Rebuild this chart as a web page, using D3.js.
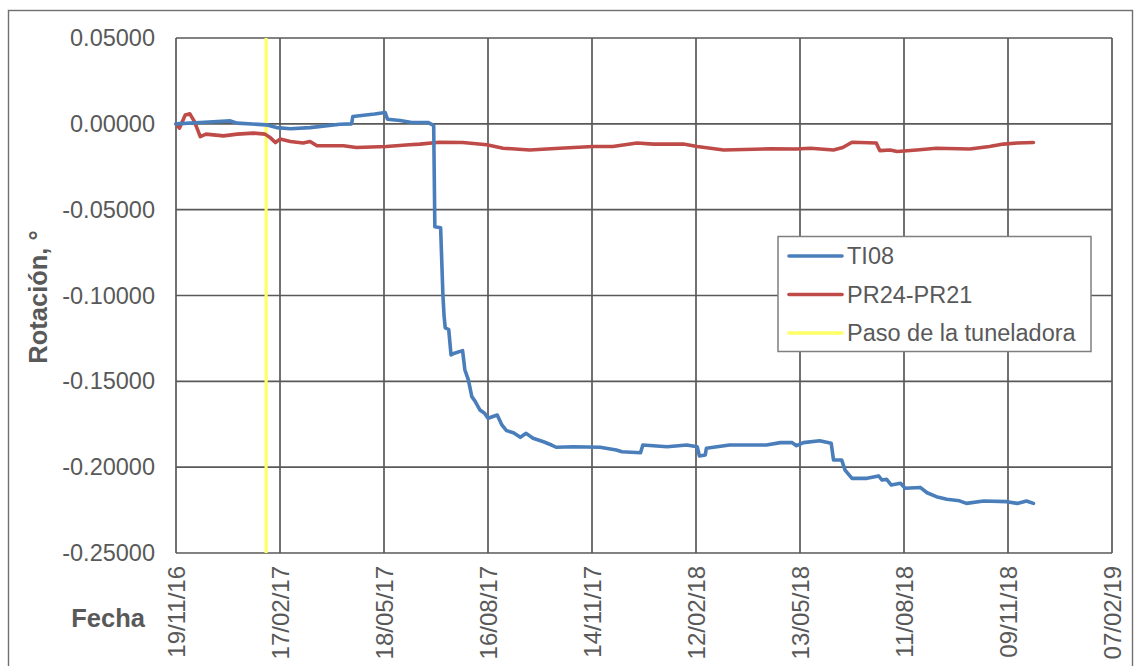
<!DOCTYPE html>
<html>
<head>
<meta charset="utf-8">
<script src="https://cdn.jsdelivr.net/npm/d3@7"></script>
<style>
  html, body { margin: 0; padding: 0; background: #fff; }
  svg { display: block; font-family: "Liberation Sans", Arial, sans-serif; }
</style>
</head>
<body>
<svg id="chart" width="1135" height="666"></svg>
<script>
// ---------- DATA ----------
const tiDates = ["2016-11-19","2016-12-10","2017-01-05","2017-01-11","2017-02-05","2017-02-14","2017-02-26","2017-03-15","2017-04-10","2017-04-20","2017-04-21","2017-05-10","2017-05-19","2017-05-21","2017-06-01","2017-06-11","2017-06-25","2017-06-29","2017-06-30","2017-07-01","2017-07-06","2017-07-08","2017-07-09","2017-07-10","2017-07-13","2017-07-15","2017-07-18","2017-07-25","2017-07-27","2017-07-30","2017-08-02","2017-08-05","2017-08-09","2017-08-13","2017-08-16","2017-08-24","2017-08-28","2017-09-01","2017-09-07","2017-09-13","2017-09-18","2017-09-24","2017-10-03","2017-10-10","2017-10-14","2017-10-29","2017-11-21","2017-12-05","2017-12-10","2017-12-26","2017-12-28","2018-01-18","2018-02-04","2018-02-13","2018-02-15","2018-02-20","2018-02-21","2018-03-13","2018-04-14","2018-04-26","2018-05-06","2018-05-10","2018-05-16","2018-05-30","2018-06-09","2018-06-11","2018-06-18","2018-06-21","2018-06-27","2018-07-10","2018-07-20","2018-07-23","2018-07-27","2018-07-31","2018-08-08","2018-08-12","2018-08-25","2018-08-31","2018-09-08","2018-09-17","2018-09-28","2018-10-04","2018-10-19","2018-11-08","2018-11-17","2018-11-25","2018-12-01"];
const tiValues = [0.0000,0.0008,0.0017,0.0004,-0.0006,-0.0022,-0.0029,-0.0022,-0.0002,0.0000,0.0043,0.0057,0.0066,0.0027,0.0019,0.0008,0.0008,-0.0006,-0.0010,-0.0600,-0.0605,-0.1000,-0.1120,-0.1188,-0.1198,-0.1346,-0.1336,-0.1321,-0.1434,-0.1492,-0.1589,-0.1618,-0.1667,-0.1686,-0.1715,-0.1696,-0.1754,-0.1787,-0.1799,-0.1826,-0.1803,-0.1832,-0.1852,-0.1871,-0.1884,-0.1881,-0.1884,-0.1900,-0.1910,-0.1916,-0.1871,-0.1881,-0.1871,-0.1881,-0.1935,-0.1929,-0.1890,-0.1871,-0.1871,-0.1857,-0.1857,-0.1875,-0.1857,-0.1846,-0.1861,-0.1958,-0.1958,-0.2017,-0.2065,-0.2065,-0.2051,-0.2075,-0.2071,-0.2104,-0.2094,-0.2123,-0.2118,-0.2149,-0.2172,-0.2187,-0.2196,-0.2211,-0.2197,-0.2201,-0.2211,-0.2197,-0.2211];

const prDates = ["2016-11-19","2016-11-22","2016-11-27","2016-12-01","2016-12-05","2016-12-10","2016-12-15","2016-12-30","2017-01-11","2017-01-25","2017-02-04","2017-02-09","2017-02-13","2017-02-17","2017-02-26","2017-03-09","2017-03-15","2017-03-21","2017-04-13","2017-04-24","2017-05-20","2017-06-09","2017-06-18","2017-07-05","2017-07-25","2017-08-15","2017-08-29","2017-09-21","2017-10-17","2017-11-15","2017-12-02","2017-12-23","2018-01-06","2018-02-01","2018-02-13","2018-03-08","2018-04-17","2018-05-10","2018-05-22","2018-06-11","2018-06-19","2018-06-27","2018-07-18","2018-07-21","2018-07-30","2018-08-05","2018-08-22","2018-09-08","2018-10-07","2018-10-24","2018-11-05","2018-11-17","2018-12-01"];
const prValues = [0.0000,-0.0025,0.0052,0.0058,0.0013,-0.0074,-0.0060,-0.0070,-0.0060,-0.0054,-0.0060,-0.0083,-0.0109,-0.0089,-0.0103,-0.0112,-0.0103,-0.0128,-0.0128,-0.0138,-0.0132,-0.0122,-0.0118,-0.0107,-0.0109,-0.0122,-0.0142,-0.0152,-0.0142,-0.0132,-0.0132,-0.0112,-0.0118,-0.0118,-0.0132,-0.0152,-0.0146,-0.0147,-0.0142,-0.0152,-0.0138,-0.0107,-0.0112,-0.0156,-0.0152,-0.0161,-0.0152,-0.0142,-0.0147,-0.0132,-0.0118,-0.0112,-0.0109];

const tbmDates = ["2017-02-05","2017-02-05"];
const tbmValues = [0.05,-0.25];

const xTickLabels = ["19/11/16","17/02/17","18/05/17","16/08/17","14/11/17","12/02/18","13/05/18","11/08/18","09/11/18","07/02/19"];
const yTickValues = [0.05,0,-0.05,-0.10,-0.15,-0.20,-0.25];
const yTickLabels = ["0.05000","0.00000","-0.05000","-0.10000","-0.15000","-0.20000","-0.25000"];

const seriesNames = ["TI08","PR24-PR21","Paso de la tuneladora"];
const seriesColors = ["#4A7EBB","#BE4B48","#FFFF66"];

// ---------- CHART ----------
const svg = d3.select("#chart");
const parseIso = d3.timeParse("%Y-%m-%d");
const parseTick = d3.timeParse("%d/%m/%y");
const xTicks = xTickLabels.map(parseTick);

const plot = {left: 176, right: 1112, top: 38, bottom: 553};
const x = d3.scaleTime().domain([xTicks[0], xTicks[xTicks.length-1]]).range([plot.left, plot.right]);
const y = d3.scaleLinear().domain([-0.25, 0.05]).range([plot.bottom, plot.top]);

const gridColor = "#595959";
const textColor = "#595959";

// outer chart border
svg.append("rect").attr("x", 8.5).attr("y", 10.5).attr("width", 1124).attr("height", 700)
  .attr("fill", "#fff").attr("stroke", "#6f6f6f").attr("stroke-width", 1.4);

// gridlines
const g = svg.append("g");
g.selectAll("line.hg").data(yTickValues).join("line")
  .attr("x1", plot.left).attr("x2", plot.right)
  .attr("y1", d => y(d)).attr("y2", d => y(d))
  .attr("stroke", gridColor).attr("stroke-width", 1.7);
g.selectAll("line.vg").data(xTicks).join("line")
  .attr("x1", d => x(d)).attr("x2", d => x(d))
  .attr("y1", plot.top).attr("y2", plot.bottom)
  .attr("stroke", gridColor).attr("stroke-width", 1.7);

// y axis labels
const yAxis = d3.axisLeft(y).tickValues(yTickValues).tickSize(0).tickPadding(21)
  .tickFormat((d, i) => yTickLabels[i]);
const ya = svg.append("g").attr("transform", `translate(${plot.left},0)`).call(yAxis);
ya.select(".domain").remove();
ya.selectAll("text").attr("fill", textColor).style("font-size", "23.5px")
  .style("font-family", "'Liberation Sans', Arial, sans-serif");

// x axis labels (rotated)
const xAxis = d3.axisBottom(x).tickValues(xTicks).tickSize(0).tickFormat((d, i) => xTickLabels[i]);
const xa = svg.append("g").attr("transform", `translate(0,${plot.bottom})`).call(xAxis);
xa.select(".domain").remove();
xa.selectAll("text")
  .attr("fill", textColor).style("font-size", "24px")
  .style("font-family", "'Liberation Sans', Arial, sans-serif")
  .attr("text-anchor", "end")
  .attr("transform", "rotate(-90)")
  .attr("x", -13).attr("y", 0).attr("dy", "0.35em");

// series lines
const line = d3.line().x(d => x(d[0])).y(d => y(d[1]));
const tbm = d3.zip(tbmDates.map(parseIso), tbmValues);
const ti = d3.zip(tiDates.map(parseIso), tiValues);
const pr = d3.zip(prDates.map(parseIso), prValues);

svg.append("path").datum(tbm).attr("d", line).attr("fill", "none")
  .attr("stroke", seriesColors[2]).attr("stroke-width", 3.2);
svg.append("path").datum(pr).attr("d", line).attr("fill", "none")
  .attr("stroke", seriesColors[1]).attr("stroke-width", 3.6).attr("stroke-linejoin", "round").attr("stroke-linecap", "round");
svg.append("path").datum(ti).attr("d", line).attr("fill", "none")
  .attr("stroke", seriesColors[0]).attr("stroke-width", 3.6).attr("stroke-linejoin", "round").attr("stroke-linecap", "round");

// axis titles
svg.append("text").attr("transform", "translate(47,297) rotate(-90)")
  .attr("text-anchor", "middle").attr("fill", textColor)
  .style("font-size", "25.5px").style("font-weight", "bold").text("Rotación, °");
svg.append("text").attr("x", 145).attr("y", 627).attr("text-anchor", "end")
  .attr("fill", textColor).style("font-size", "25.5px").style("font-weight", "bold").text("Fecha");

// legend
const lg = svg.append("g");
lg.append("rect").attr("x", 778).attr("y", 236.5).attr("width", 313).attr("height", 115)
  .attr("fill", "#fff").attr("stroke", "#7f7f7f").attr("stroke-width", 1.5);
const ly = [256, 294.5, 333];
seriesNames.forEach((name, i) => {
  lg.append("line").attr("x1", 789).attr("x2", 842).attr("y1", ly[i]).attr("y2", ly[i])
    .attr("stroke", seriesColors[i]).attr("stroke-width", 3.6).attr("stroke-linecap", "round");
  lg.append("text").attr("x", 847).attr("y", ly[i]).attr("dy", "0.35em")
    .attr("fill", textColor).style("font-size", "23.5px").text(name);
});
</script>
</body>
</html>
